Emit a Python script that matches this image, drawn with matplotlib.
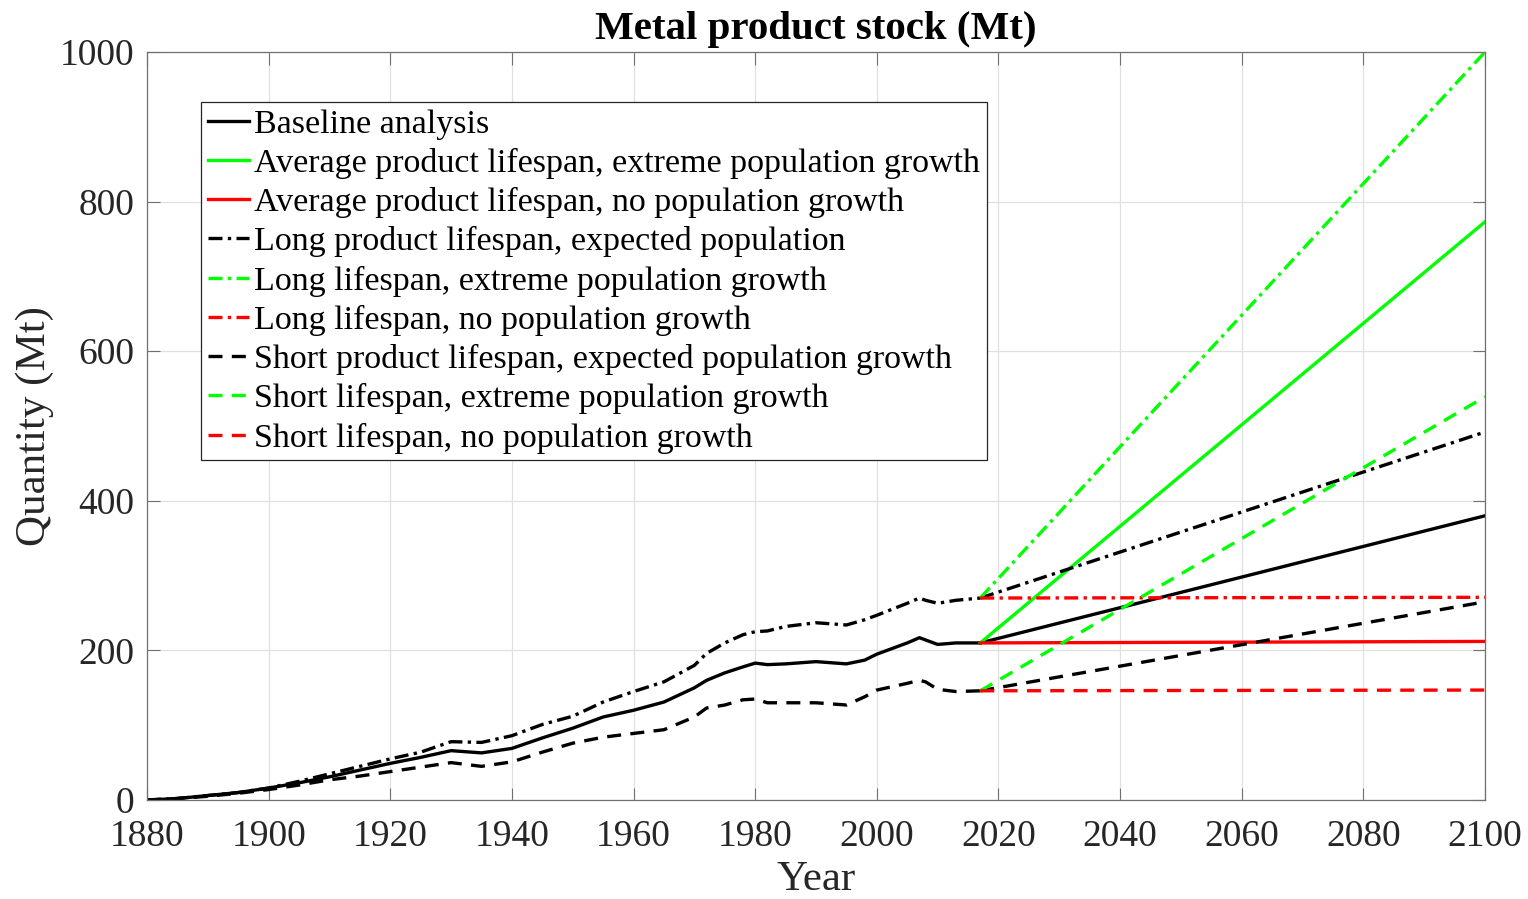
import matplotlib.pyplot as plt

# metal product stock - historical estimates and scenario projections
plt.rcParams["font.family"] = ["Liberation Serif", "DejaVu Serif"]

# historical stock (Mt)
hist_years = [1880, 1885, 1890, 1895, 1900, 1905, 1910, 1915, 1920, 1925,
              1930, 1935, 1940, 1945, 1950, 1955, 1960, 1965, 1970, 1972,
              1975, 1978, 1980, 1982, 1985, 1990, 1995, 1998, 2000, 2005,
              2007, 2008, 2010, 2013, 2017]
baseline_hist = [0, 2, 6, 10, 16, 23, 31, 40, 49, 57,
                 66, 63, 69, 83, 96, 111, 120, 131, 150, 160,
                 170, 178, 183, 181, 182, 185, 182, 187, 195, 210,
                 217, 214, 208, 210, 210]
long_hist = [0, 2, 6, 10, 16, 25, 35, 45, 55, 64,
             78, 77, 86, 101, 112, 131, 145, 158, 180, 196,
             210, 221, 225, 226, 232, 237, 234, 241, 247, 263,
             270, 267, 263, 267, 270]
short_hist = [0, 2, 5, 9, 14, 20, 27, 32, 38, 44,
              50, 45, 51, 64, 76, 84, 89, 94, 111, 123,
              127, 134, 135, 130, 130, 130, 127, 138, 147, 156,
              160, 158, 148, 145, 146]

# scenario projections (Mt), 2017 -> 2100
proj_years = [2017, 2100]
baseline_proj = [210, 380]
avg_extreme = [210, 773]
avg_nogrowth = [210, 212]
long_expected = [270, 492]
long_extreme = [270, 1000]
long_nogrowth = [270, 271]
short_expected = [146, 265]
short_extreme = [146, 539]
short_nogrowth = [146, 147]

labels = ["Baseline analysis",
          "Average product lifespan, extreme population growth",
          "Average product lifespan, no population growth",
          "Long product lifespan, expected population",
          "Long lifespan, extreme population growth",
          "Long lifespan, no population growth",
          "Short product lifespan, expected population growth",
          "Short lifespan, extreme population growth",
          "Short lifespan, no population growth"]

green = (0, 1, 0)
red = (1, 0, 0)
lw = 2.4
dash = (4.2, 2.8)
dashdot = (4.2, 1.6, 1.0, 1.6)

fig = plt.figure(figsize=(15.28, 8.99), dpi=100)
ax = fig.add_axes([0.0962, 0.1101, 0.8757, 0.8321])

# historical parts
ax.plot(hist_years, baseline_hist, color="black", lw=lw)
ax.plot(hist_years, long_hist, color="black", lw=lw, dashes=dashdot)
ax.plot(hist_years, short_hist, color="black", lw=lw, dashes=dash)

# projections
h = []
h += ax.plot(proj_years, baseline_proj, color="black", lw=lw)
h += ax.plot(proj_years, avg_extreme, color=green, lw=lw)
h += ax.plot(proj_years, avg_nogrowth, color=red, lw=lw)
h += ax.plot(proj_years, long_expected, color="black", lw=lw, dashes=dashdot)
h += ax.plot(proj_years, long_extreme, color=green, lw=lw, dashes=dashdot)
h += ax.plot(proj_years, long_nogrowth, color=red, lw=lw, dashes=dashdot)
h += ax.plot(proj_years, short_expected, color="black", lw=lw, dashes=dash)
h += ax.plot(proj_years, short_extreme, color=green, lw=lw, dashes=dash)
h += ax.plot(proj_years, short_nogrowth, color=red, lw=lw, dashes=dash)

ax.set_xlim(1880, 2100)
ax.set_ylim(0, 1000)
ax.set_xticks(range(1880, 2101, 20))
ax.set_yticks(range(0, 1001, 200))
ax.grid(True, color="#e0e0e0", lw=0.9)
ax.set_axisbelow(True)
ax.tick_params(direction="in", length=9, width=0.8, labelsize=27,
               top=True, right=True, colors="#707070", labelcolor="#262626")
ax.tick_params(axis="x", pad=14)
ax.tick_params(axis="y", pad=9)
for s in ax.spines.values():
    s.set_color("#707070")
    s.set_linewidth(0.9)

ax.set_xlabel("Year", fontsize=31, labelpad=5, color="#262626")
ax.set_ylabel("Quantity (Mt)", fontsize=31, labelpad=4, color="#262626")
ax.set_title("Metal product stock (Mt)", fontsize=29.5, fontweight="bold",
             pad=9)

leg = ax.legend(h, labels, loc="upper left", bbox_to_anchor=(0.0404, 0.933),
                fontsize=24.5, frameon=True, fancybox=False, framealpha=1,
                edgecolor="#262626", handlelength=1.2, handletextpad=0.15,
                labelspacing=0.24, borderpad=0.2, borderaxespad=0)
leg.get_frame().set_linewidth(0.9)

plt.savefig("out.png")
